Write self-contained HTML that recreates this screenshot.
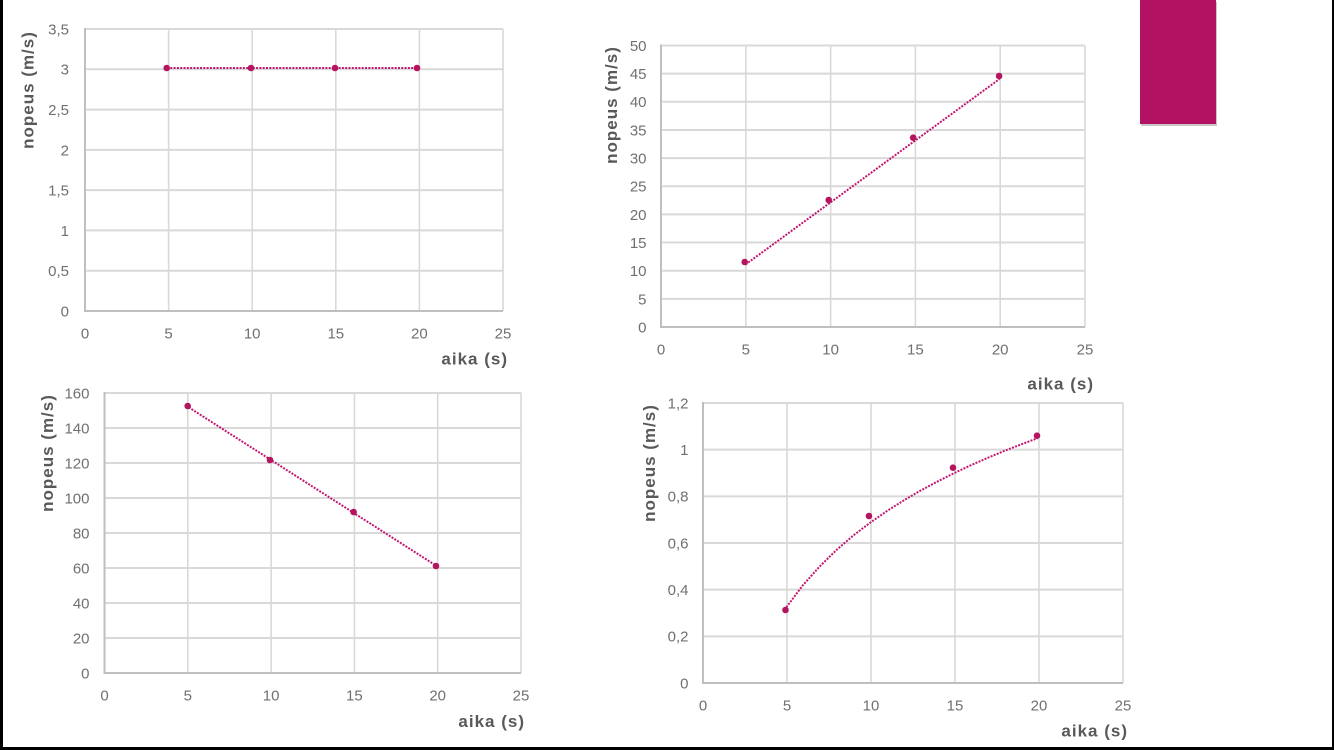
<!DOCTYPE html>
<html>
<head>
<meta charset="utf-8">
<style>
html,body{margin:0;padding:0;background:#fff;}
svg{display:block;}
.tk{font-family:"Liberation Sans",sans-serif;font-size:15px;fill:#707070;}
.ttl{font-family:"Liberation Sans",sans-serif;font-size:17px;font-weight:bold;fill:#595959;letter-spacing:1px;}
.gh{stroke:#d9d9d9;stroke-width:2;}
.gv{stroke:#d9d9d9;stroke-width:1.6;}
.ax{stroke:#bfbfbf;stroke-width:2;}
.tr{stroke:#c2176f;stroke-width:2;stroke-dasharray:2 1.3;fill:none;}
.mk{fill:#b5145e;}
</style>
</head>
<body>
<svg width="1334" height="750" viewBox="0 0 1334 750" xmlns="http://www.w3.org/2000/svg">
<rect x="0" y="0" width="1334" height="750" fill="#fff"/>

<!-- ========== Chart 1 (top-left) ========== -->
<g>
  <line class="gh" x1="85" y1="29" x2="503" y2="29"/>
  <line class="gh" x1="85" y1="69.29" x2="503" y2="69.29"/>
  <line class="gh" x1="85" y1="109.57" x2="503" y2="109.57"/>
  <line class="gh" x1="85" y1="149.86" x2="503" y2="149.86"/>
  <line class="gh" x1="85" y1="190.14" x2="503" y2="190.14"/>
  <line class="gh" x1="85" y1="230.43" x2="503" y2="230.43"/>
  <line class="gh" x1="85" y1="270.71" x2="503" y2="270.71"/>
  <line class="gv" x1="168.6" y1="29" x2="168.6" y2="311"/>
  <line class="gv" x1="252.2" y1="29" x2="252.2" y2="311"/>
  <line class="gv" x1="335.8" y1="29" x2="335.8" y2="311"/>
  <line class="gv" x1="419.4" y1="29" x2="419.4" y2="311"/>
  <line class="gv" x1="503" y1="29" x2="503" y2="311"/>
  <line class="ax" x1="85" y1="28" x2="85" y2="311"/>
  <line class="ax" x1="84" y1="311" x2="503" y2="311"/>
  <g class="tk" text-anchor="end">
    <text x="69" y="34.4">3,5</text>
    <text x="69" y="74.7">3</text>
    <text x="69" y="115">2,5</text>
    <text x="69" y="155.3">2</text>
    <text x="69" y="195.5">1,5</text>
    <text x="69" y="235.8">1</text>
    <text x="69" y="276.1">0,5</text>
    <text x="69" y="316.4">0</text>
  </g>
  <g class="tk" text-anchor="middle">
    <text x="85" y="338.4">0</text>
    <text x="168.6" y="338.4">5</text>
    <text x="252.2" y="338.4">10</text>
    <text x="335.8" y="338.4">15</text>
    <text x="419.4" y="338.4">20</text>
    <text x="503" y="338.4">25</text>
  </g>
  <text class="ttl" text-anchor="end" x="508" y="364.5">aika (s)</text>
  <text class="ttl" text-anchor="middle" transform="translate(33.5,90) rotate(-90)">nopeus (m/s)</text>
  <line class="tr" x1="167" y1="68" x2="417" y2="68"/>
  <circle class="mk" cx="166.7" cy="68" r="3.3"/>
  <circle class="mk" cx="251" cy="68" r="3.3"/>
  <circle class="mk" cx="335" cy="68" r="3.3"/>
  <circle class="mk" cx="417" cy="68" r="3.3"/>
</g>

<!-- ========== Chart 2 (top-right) ========== -->
<g>
  <line class="gh" x1="661" y1="45.5" x2="1085" y2="45.5"/>
  <line class="gh" x1="661" y1="73.65" x2="1085" y2="73.65"/>
  <line class="gh" x1="661" y1="101.8" x2="1085" y2="101.8"/>
  <line class="gh" x1="661" y1="129.95" x2="1085" y2="129.95"/>
  <line class="gh" x1="661" y1="158.1" x2="1085" y2="158.1"/>
  <line class="gh" x1="661" y1="186.25" x2="1085" y2="186.25"/>
  <line class="gh" x1="661" y1="214.4" x2="1085" y2="214.4"/>
  <line class="gh" x1="661" y1="242.55" x2="1085" y2="242.55"/>
  <line class="gh" x1="661" y1="270.7" x2="1085" y2="270.7"/>
  <line class="gh" x1="661" y1="298.85" x2="1085" y2="298.85"/>
  <line class="gv" x1="745.8" y1="45.5" x2="745.8" y2="327"/>
  <line class="gv" x1="830.6" y1="45.5" x2="830.6" y2="327"/>
  <line class="gv" x1="915.4" y1="45.5" x2="915.4" y2="327"/>
  <line class="gv" x1="1000.2" y1="45.5" x2="1000.2" y2="327"/>
  <line class="gv" x1="1085" y1="45.5" x2="1085" y2="327"/>
  <line class="ax" x1="661" y1="44.5" x2="661" y2="327"/>
  <line class="ax" x1="660" y1="327" x2="1085" y2="327"/>
  <g class="tk" text-anchor="end">
    <text x="646.5" y="50.9">50</text>
    <text x="646.5" y="79.05">45</text>
    <text x="646.5" y="107.2">40</text>
    <text x="646.5" y="135.35">35</text>
    <text x="646.5" y="163.5">30</text>
    <text x="646.5" y="191.65">25</text>
    <text x="646.5" y="219.8">20</text>
    <text x="646.5" y="247.95">15</text>
    <text x="646.5" y="276.1">10</text>
    <text x="646.5" y="304.25">5</text>
    <text x="646.5" y="332.4">0</text>
  </g>
  <g class="tk" text-anchor="middle">
    <text x="661" y="354.4">0</text>
    <text x="745.8" y="354.4">5</text>
    <text x="830.6" y="354.4">10</text>
    <text x="915.4" y="354.4">15</text>
    <text x="1000.2" y="354.4">20</text>
    <text x="1085" y="354.4">25</text>
  </g>
  <text class="ttl" text-anchor="end" x="1094" y="389.5">aika (s)</text>
  <text class="ttl" text-anchor="middle" transform="translate(617.2,105) rotate(-90)">nopeus (m/s)</text>
  <line class="tr" x1="745.5" y1="264.5" x2="999.5" y2="79"/>
  <circle class="mk" cx="744.7" cy="262" r="3.3"/>
  <circle class="mk" cx="828.7" cy="200" r="3.3"/>
  <circle class="mk" cx="913.2" cy="137.7" r="3.3"/>
  <circle class="mk" cx="999.1" cy="76" r="3.3"/>
</g>

<!-- ========== Chart 3 (bottom-left) ========== -->
<g>
  <line class="gh" x1="104.5" y1="393" x2="521" y2="393"/>
  <line class="gh" x1="104.5" y1="428" x2="521" y2="428"/>
  <line class="gh" x1="104.5" y1="463" x2="521" y2="463"/>
  <line class="gh" x1="104.5" y1="498" x2="521" y2="498"/>
  <line class="gh" x1="104.5" y1="533" x2="521" y2="533"/>
  <line class="gh" x1="104.5" y1="568" x2="521" y2="568"/>
  <line class="gh" x1="104.5" y1="603" x2="521" y2="603"/>
  <line class="gh" x1="104.5" y1="638" x2="521" y2="638"/>
  <line class="gv" x1="187.8" y1="393" x2="187.8" y2="673"/>
  <line class="gv" x1="271.1" y1="393" x2="271.1" y2="673"/>
  <line class="gv" x1="354.4" y1="393" x2="354.4" y2="673"/>
  <line class="gv" x1="437.7" y1="393" x2="437.7" y2="673"/>
  <line class="gv" x1="521" y1="393" x2="521" y2="673"/>
  <line class="ax" x1="104.5" y1="392" x2="104.5" y2="673"/>
  <line class="ax" x1="103.5" y1="673" x2="521" y2="673"/>
  <g class="tk" text-anchor="end">
    <text x="89.5" y="398.4">160</text>
    <text x="89.5" y="433.4">140</text>
    <text x="89.5" y="468.4">120</text>
    <text x="89.5" y="503.4">100</text>
    <text x="89.5" y="538.4">80</text>
    <text x="89.5" y="573.4">60</text>
    <text x="89.5" y="608.4">40</text>
    <text x="89.5" y="643.4">20</text>
    <text x="89.5" y="678.4">0</text>
  </g>
  <g class="tk" text-anchor="middle">
    <text x="104.5" y="700.4">0</text>
    <text x="187.8" y="700.4">5</text>
    <text x="271.1" y="700.4">10</text>
    <text x="354.4" y="700.4">15</text>
    <text x="437.7" y="700.4">20</text>
    <text x="521" y="700.4">25</text>
  </g>
  <text class="ttl" text-anchor="end" x="525" y="727">aika (s)</text>
  <text class="ttl" text-anchor="middle" transform="translate(53,453) rotate(-90)">nopeus (m/s)</text>
  <line class="tr" x1="188.7" y1="407.3" x2="434.6" y2="564.7"/>
  <circle class="mk" cx="187.7" cy="406" r="3.3"/>
  <circle class="mk" cx="270" cy="460" r="3.3"/>
  <circle class="mk" cx="353.6" cy="512" r="3.3"/>
  <circle class="mk" cx="436" cy="566" r="3.3"/>
</g>

<!-- ========== Chart 4 (bottom-right) ========== -->
<g>
  <line class="gh" x1="703" y1="403" x2="1123" y2="403"/>
  <line class="gh" x1="703" y1="449.67" x2="1123" y2="449.67"/>
  <line class="gh" x1="703" y1="496.33" x2="1123" y2="496.33"/>
  <line class="gh" x1="703" y1="543" x2="1123" y2="543"/>
  <line class="gh" x1="703" y1="589.67" x2="1123" y2="589.67"/>
  <line class="gh" x1="703" y1="636.33" x2="1123" y2="636.33"/>
  <line class="gv" x1="787" y1="403" x2="787" y2="683"/>
  <line class="gv" x1="871" y1="403" x2="871" y2="683"/>
  <line class="gv" x1="955" y1="403" x2="955" y2="683"/>
  <line class="gv" x1="1039" y1="403" x2="1039" y2="683"/>
  <line class="gv" x1="1123" y1="403" x2="1123" y2="683"/>
  <line class="ax" x1="703" y1="402" x2="703" y2="683"/>
  <line class="ax" x1="702" y1="683" x2="1123" y2="683"/>
  <g class="tk" text-anchor="end">
    <text x="688.5" y="408.4">1,2</text>
    <text x="688.5" y="455.1">1</text>
    <text x="688.5" y="501.7">0,8</text>
    <text x="688.5" y="548.4">0,6</text>
    <text x="688.5" y="595.1">0,4</text>
    <text x="688.5" y="641.7">0,2</text>
    <text x="688.5" y="688.4">0</text>
  </g>
  <g class="tk" text-anchor="middle">
    <text x="703" y="710.4">0</text>
    <text x="787" y="710.4">5</text>
    <text x="871" y="710.4">10</text>
    <text x="955" y="710.4">15</text>
    <text x="1039" y="710.4">20</text>
    <text x="1123" y="710.4">25</text>
  </g>
  <text class="ttl" text-anchor="end" x="1128" y="736.5">aika (s)</text>
  <text class="ttl" text-anchor="middle" transform="translate(655,463) rotate(-90)">nopeus (m/s)</text>
  <polyline class="tr" points="786.3,607.3 803.0,585.1 819.8,566.3 836.5,550.0 853.2,535.6 870.0,522.8 886.7,511.2 903.4,500.6 920.2,490.8 936.9,481.8 953.6,473.4 970.3,465.5 987.1,458.1 1003.8,451.1 1020.6,444.6 1037.3,438.3"/>
  <circle class="mk" cx="785.5" cy="610" r="3.3"/>
  <circle class="mk" cx="869" cy="516" r="3.3"/>
  <circle class="mk" cx="953" cy="467.7" r="3.3"/>
  <circle class="mk" cx="1037" cy="435.7" r="3.3"/>
</g>

<!-- Magenta block with shadow -->
<rect x="1141" y="2" width="76" height="124" fill="#9a9a9a" opacity="0.55"/>
<rect x="1140" y="0" width="76" height="124" fill="#b31262"/>

<!-- Frame borders -->
<rect x="0" y="0" width="3" height="750" fill="#000"/>
<rect x="1332" y="0" width="2" height="750" fill="#000"/>
<rect x="0" y="747" width="1334" height="3" fill="#000"/>
</svg>
</body>
</html>
